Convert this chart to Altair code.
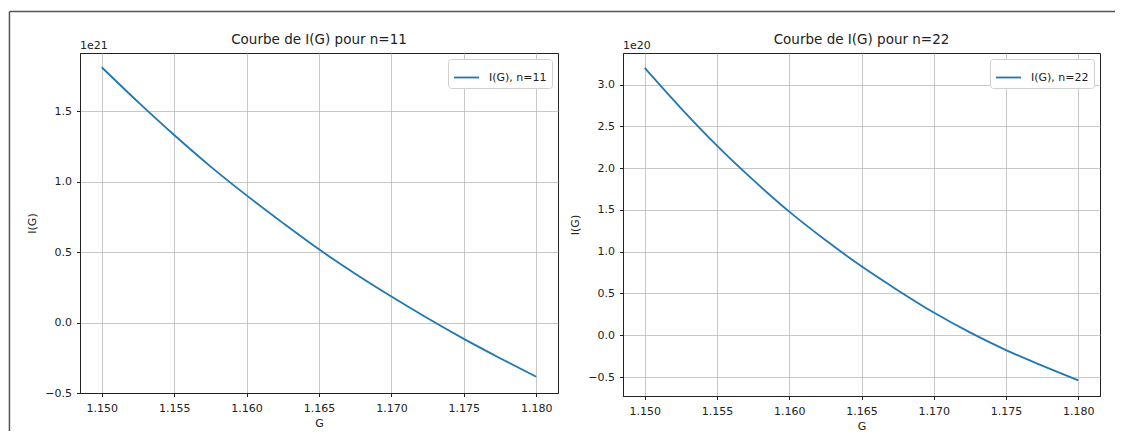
import altair as alt
import pandas as pd

# ---- data ----
G = [1.150, 1.1525, 1.155, 1.1575, 1.160, 1.1625, 1.165, 1.1675, 1.170, 1.1725, 1.175, 1.1775, 1.180]
I_N11 = [1.811, 1.565, 1.330, 1.108, 0.902, 0.707, 0.519, 0.346, 0.184, 0.030, -0.116, -0.253, -0.385]  # x 1e21
I_N22 = [3.199, 2.719, 2.269, 1.859, 1.479, 1.139, 0.825, 0.540, 0.272, 0.034, -0.178, -0.364, -0.540]  # x 1e20
X_TICKS = [1.150, 1.155, 1.160, 1.165, 1.170, 1.175, 1.180]
Y_TICKS_N11 = [-0.5, 0.0, 0.5, 1.0, 1.5]
Y_TICKS_N22 = [-0.5, 0.0, 0.5, 1.0, 1.5, 2.0, 2.5, 3.0]
TITLES = ["Courbe de I(G) pour n=11", "Courbe de I(G) pour n=22"]
LABELS = ["I(G), n=11", "I(G), n=22"]

FONT = "DejaVu Sans"
TXT = "#222222"
BLUE = "#1f77b4"


def panel(title, label, mant, exp, yticks, ydom, width, height, decor=False):
    mult = 10.0 ** exp
    df = pd.DataFrame({"G": G, "I": [m * mult for m in mant], "serie": [label] * len(G)})
    line = alt.Chart(df).mark_line(strokeWidth=1.8, interpolate="monotone").encode(
        x=alt.X("G:Q",
                scale=alt.Scale(domain=[1.1485, 1.1815], nice=False, zero=False),
                axis=alt.Axis(values=X_TICKS, format=".3f", title="G", grid=True,
                              labelPadding=5.5, titlePadding=4.5)),
        y=alt.Y("I:Q",
                scale=alt.Scale(domain=[ydom[0] * mult, ydom[1] * mult], nice=False, zero=False),
                axis=alt.Axis(values=[t * mult for t in yticks],
                              labelExpr=f"format(datum.value / 1e{exp}, '.1f')",
                              title="I(G)", grid=True, labelPadding=5, titlePadding=7)),
        color=alt.Color("serie:N", scale=alt.Scale(domain=[label], range=[BLUE]),
                        legend=alt.Legend(title=None, orient="top-right", offset=6,
                                          symbolType="stroke", symbolSize=625,
                                          symbolStrokeWidth=1.8, labelFontSize=11,
                                          labelFont=FONT, labelColor=TXT, labelOffset=9,
                                          padding=5, strokeColor="#d0d0d0",
                                          fillColor="white", cornerRadius=3)),
    )
    one = pd.DataFrame({"t": [title], "e": [f"1e{exp}"]})
    ttl = alt.Chart(one).mark_text(align="center", baseline="alphabetic", fontSize=13.5,
                                   font=FONT, color=TXT).encode(
        text="t:N", x=alt.value(width / 2), y=alt.value(-9))
    off = alt.Chart(one).mark_text(align="left", baseline="alphabetic", fontSize=11,
                                   font=FONT, color=TXT).encode(
        text="e:N", x=alt.value(0), y=alt.value(-4))
    layers = [line, ttl, off]
    if decor:
        top = alt.Chart(one).mark_rule(color="#555555", strokeWidth=1.5).encode(
            x=alt.value(-70.55), x2=alt.value(1035), y=alt.value(-41.6))
        left = alt.Chart(one).mark_rule(color="#555555", strokeWidth=1.5).encode(
            x=alt.value(-70.55), y=alt.value(-41.6), y2=alt.value(378))
        layers += [top, left]
    return alt.layer(*layers).properties(width=width, height=height)


left = panel(TITLES[0], LABELS[0], I_N11, 21, Y_TICKS_N11, [-0.5, 1.912], 478, 340, decor=True)
right = panel(TITLES[1], LABELS[1], I_N22, 20, Y_TICKS_N22, [-0.727, 3.378], 477, 343)

chart = alt.hconcat(left, right, spacing=65, bounds="flush").resolve_scale(
    x="independent", y="independent", color="independent"
).resolve_legend(color="independent").properties(
    padding={"left": 0, "top": 2, "right": 0, "bottom": 0}
).configure_view(
    stroke=TXT, strokeWidth=1
).configure_axis(
    labelFont=FONT, labelFontSize=11, labelColor=TXT,
    titleFont=FONT, titleFontSize=11, titleFontWeight="normal", titleColor=TXT,
    tickColor=TXT, tickSize=3.5, domainColor=TXT,
    gridColor="#b0b0b0", gridOpacity=0.7, gridWidth=1,
)

chart.save("out.html", embed_options={"renderer": "svg", "actions": False})
